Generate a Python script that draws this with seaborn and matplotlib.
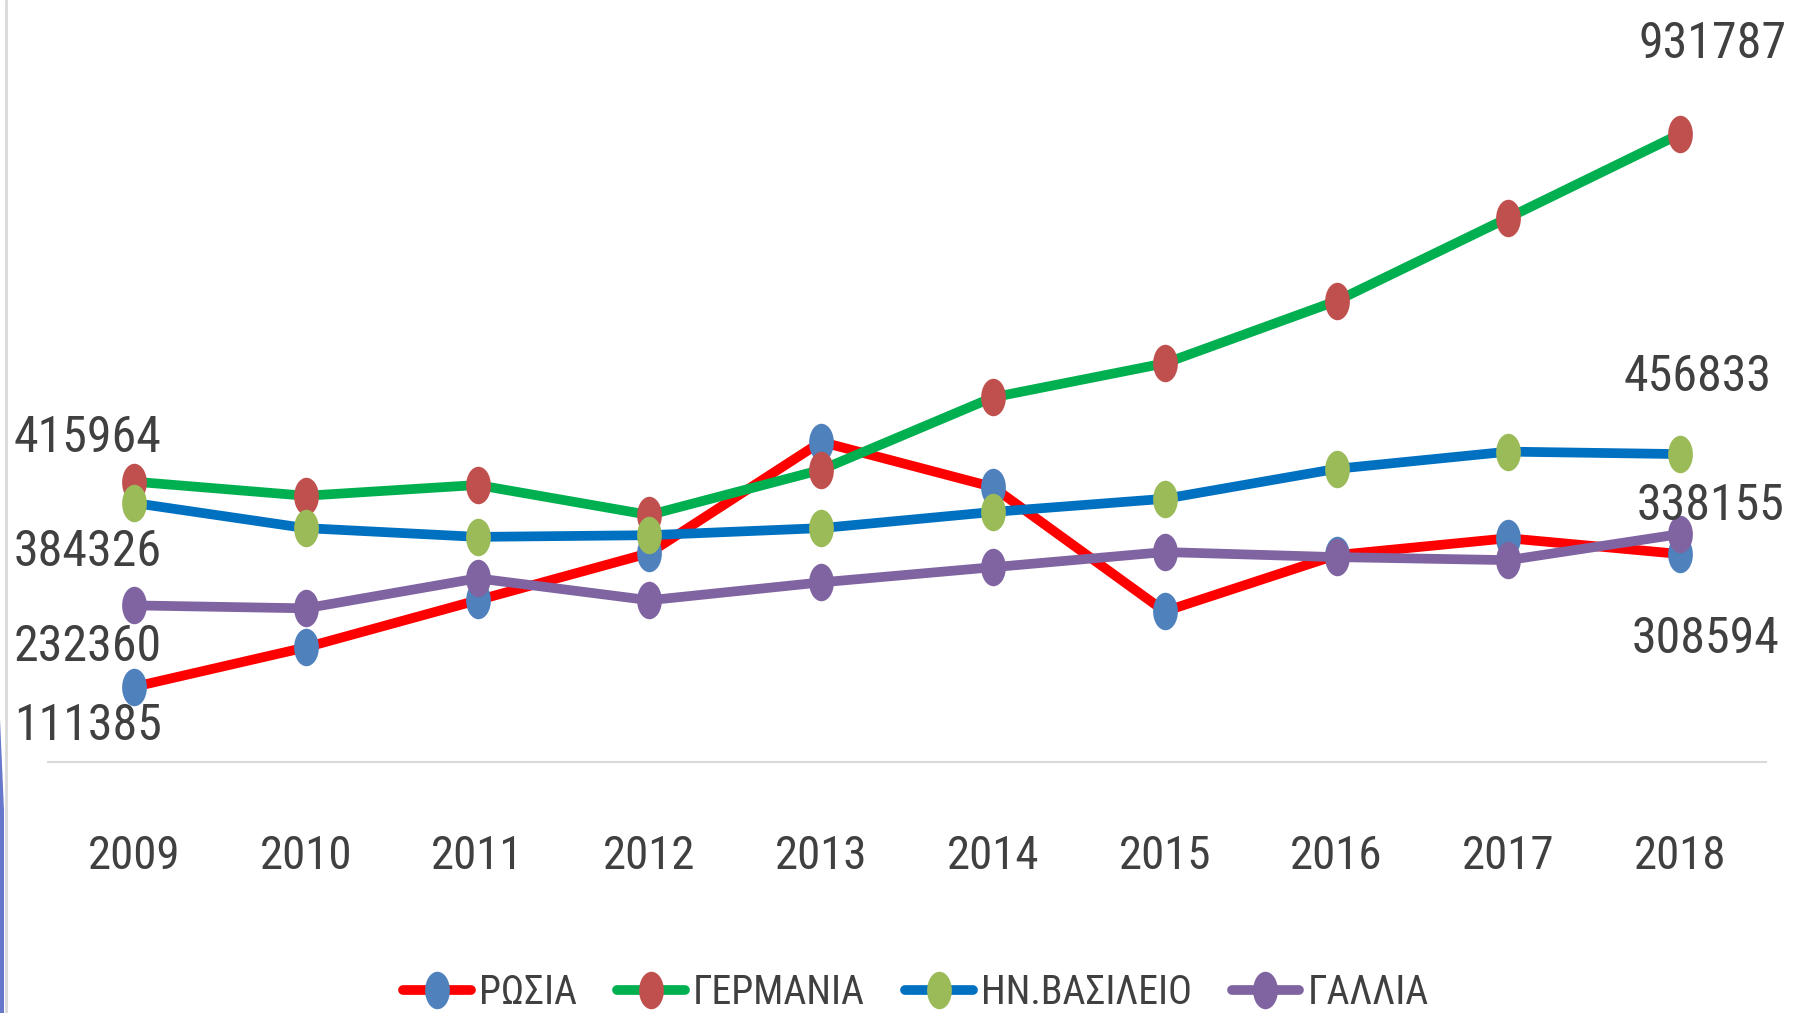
import numpy as np
import pandas as pd
import seaborn as sns
import matplotlib.pyplot as plt
from matplotlib import font_manager
from matplotlib.path import Path
from matplotlib.transforms import Affine2D
from matplotlib.lines import Line2D
from matplotlib.patches import Polygon

# Data
years = ["2009", "2010", "2011", "2012", "2013", "2014", "2015", "2016", "2017", "2018"]
countries = ["ΡΩΣΙΑ", "ΓΕΡΜΑΝΙΑ", "ΗΝ.ΒΑΣΙΛΕΙΟ", "ΓΑΛΛΙΑ"]
russia = [111385, 170000, 240000, 310000, 475000, 408000, 223500, 307000, 332000, 308594]
germany = [415964, 395000, 411000, 366500, 433500, 541000, 591500, 684000, 807500, 931787]
uk = [384326, 347000, 334000, 336500, 347000, 371000, 390500, 435000, 460500, 456833]
france = [232360, 228000, 272500, 240000, 266500, 289000, 311500, 304000, 299500, 338155]

line_colors = ["#FF0000", "#00B050", "#0070C0", "#8064A2"]
marker_colors = ["#4F81BD", "#C0504D", "#9BBB59", "#8064A2"]

series = {"ΡΩΣΙΑ": russia, "ΓΕΡΜΑΝΙΑ": germany, "ΗΝ.ΒΑΣΙΛΕΙΟ": uk, "ΓΑΛΛΙΑ": france}
rows = []
for c in countries:
    for i, v in enumerate(series[c]):
        rows.append({"x": i, "year": years[i], "country": c, "value": v})
df = pd.DataFrame(rows)

sns.set_style("white")

# the original uses a narrow font; take the narrowest one we have
installed = {f.name for f in font_manager.fontManager.ttflist}
font_name, digit_w = "Roboto", 0.5615
for name, w in [("Liberation Sans Narrow", 0.456), ("Roboto Condensed", 0.49)]:
    if name in installed:
        font_name, digit_w = name, w
        break
plt.rcParams["font.family"] = [font_name, "DejaVu Sans"]
fs_label = 24.5 / digit_w * 0.72   # about 24.5 px per digit
fs_tick = 23.0 / digit_w * 0.72
fs_legend = fs_tick * 0.85
text_color = "#404040"

# tall ellipse marker like the original
ellipse = Path.unit_circle().transformed(Affine2D().scale(0.66, 1.0))

fig = plt.figure(figsize=(18.02, 10.13), dpi=100)
ax = fig.add_axes([48 / 1802, 1 - 762 / 1013, (1766 - 48) / 1802, (762 - 88) / 1013])

sns.lineplot(data=df, x="x", y="value", hue="country", hue_order=countries,
             palette=line_colors, marker=ellipse, markersize=27, linewidth=7,
             markeredgewidth=0, legend=False, ax=ax)

for line, mc in zip(ax.lines, marker_colors):
    line.set_markerfacecolor(mc)
    line.set_markeredgecolor(mc)
    line.set_solid_joinstyle("round")

ax.set_xlim(-0.5, 9.5)
ax.set_ylim(0, 1000000)
ax.set_xticks(range(len(years)))
ax.set_xticklabels(years, fontsize=fs_tick, color=text_color)
ax.set_yticks([])
ax.tick_params(axis="x", length=0, pad=52)
ax.set_xlabel("")
ax.set_ylabel("")
for s in ["left", "right", "top"]:
    ax.spines[s].set_visible(False)
ax.spines["bottom"].set_color("#D9D9D9")
ax.spines["bottom"].set_linewidth(1.5)

# data labels at first and last year (offsets in pixels)
first_off = {"ΡΩΣΙΑ": (-46, -39), "ΓΕΡΜΑΝΙΑ": (-46, 44), "ΗΝ.ΒΑΣΙΛΕΙΟ": (-46, -49), "ΓΑΛΛΙΑ": (-46, -42)}
last_off = {"ΡΩΣΙΑ": (25, -85), "ΓΕΡΜΑΝΙΑ": (32, 90), "ΗΝ.ΒΑΣΙΛΕΙΟ": (17, 77), "ΓΑΛΛΙΑ": (30, 28)}
for c in countries:
    vals = series[c]
    ax.annotate(str(vals[0]), (0, vals[0]), xytext=first_off[c], textcoords="offset pixels",
                ha="center", va="center", fontsize=fs_label, color=text_color, annotation_clip=False)
    ax.annotate(str(vals[-1]), (9, vals[-1]), xytext=last_off[c], textcoords="offset pixels",
                ha="center", va="center", fontsize=fs_label, color=text_color, annotation_clip=False)

handles = [Line2D([], [], color=lc, lw=7, marker=ellipse, markersize=27,
                  markerfacecolor=mc, markeredgewidth=0)
           for lc, mc in zip(line_colors, marker_colors)]
fig.legend(handles, countries, loc="center", bbox_to_anchor=(916 / 1802, 1 - 992 / 1013),
           ncol=4, frameon=False, fontsize=fs_legend, labelcolor=text_color,
           handlelength=1.7, handletextpad=0.2, columnspacing=1.0)

# frame edge on the left of the slide
fig.add_artist(Line2D([6 / 1802, 6 / 1802], [0, 1], transform=fig.transFigure,
                      color="#D9D9D9", lw=2))
fig.add_artist(Polygon([(0, 0), (4 / 1802, 0), (4 / 1802, 0.2), (0, 0.29)],
                       closed=True, transform=fig.transFigure, color="#6677CC", lw=0))

fig.savefig("out.png", dpi=100)
